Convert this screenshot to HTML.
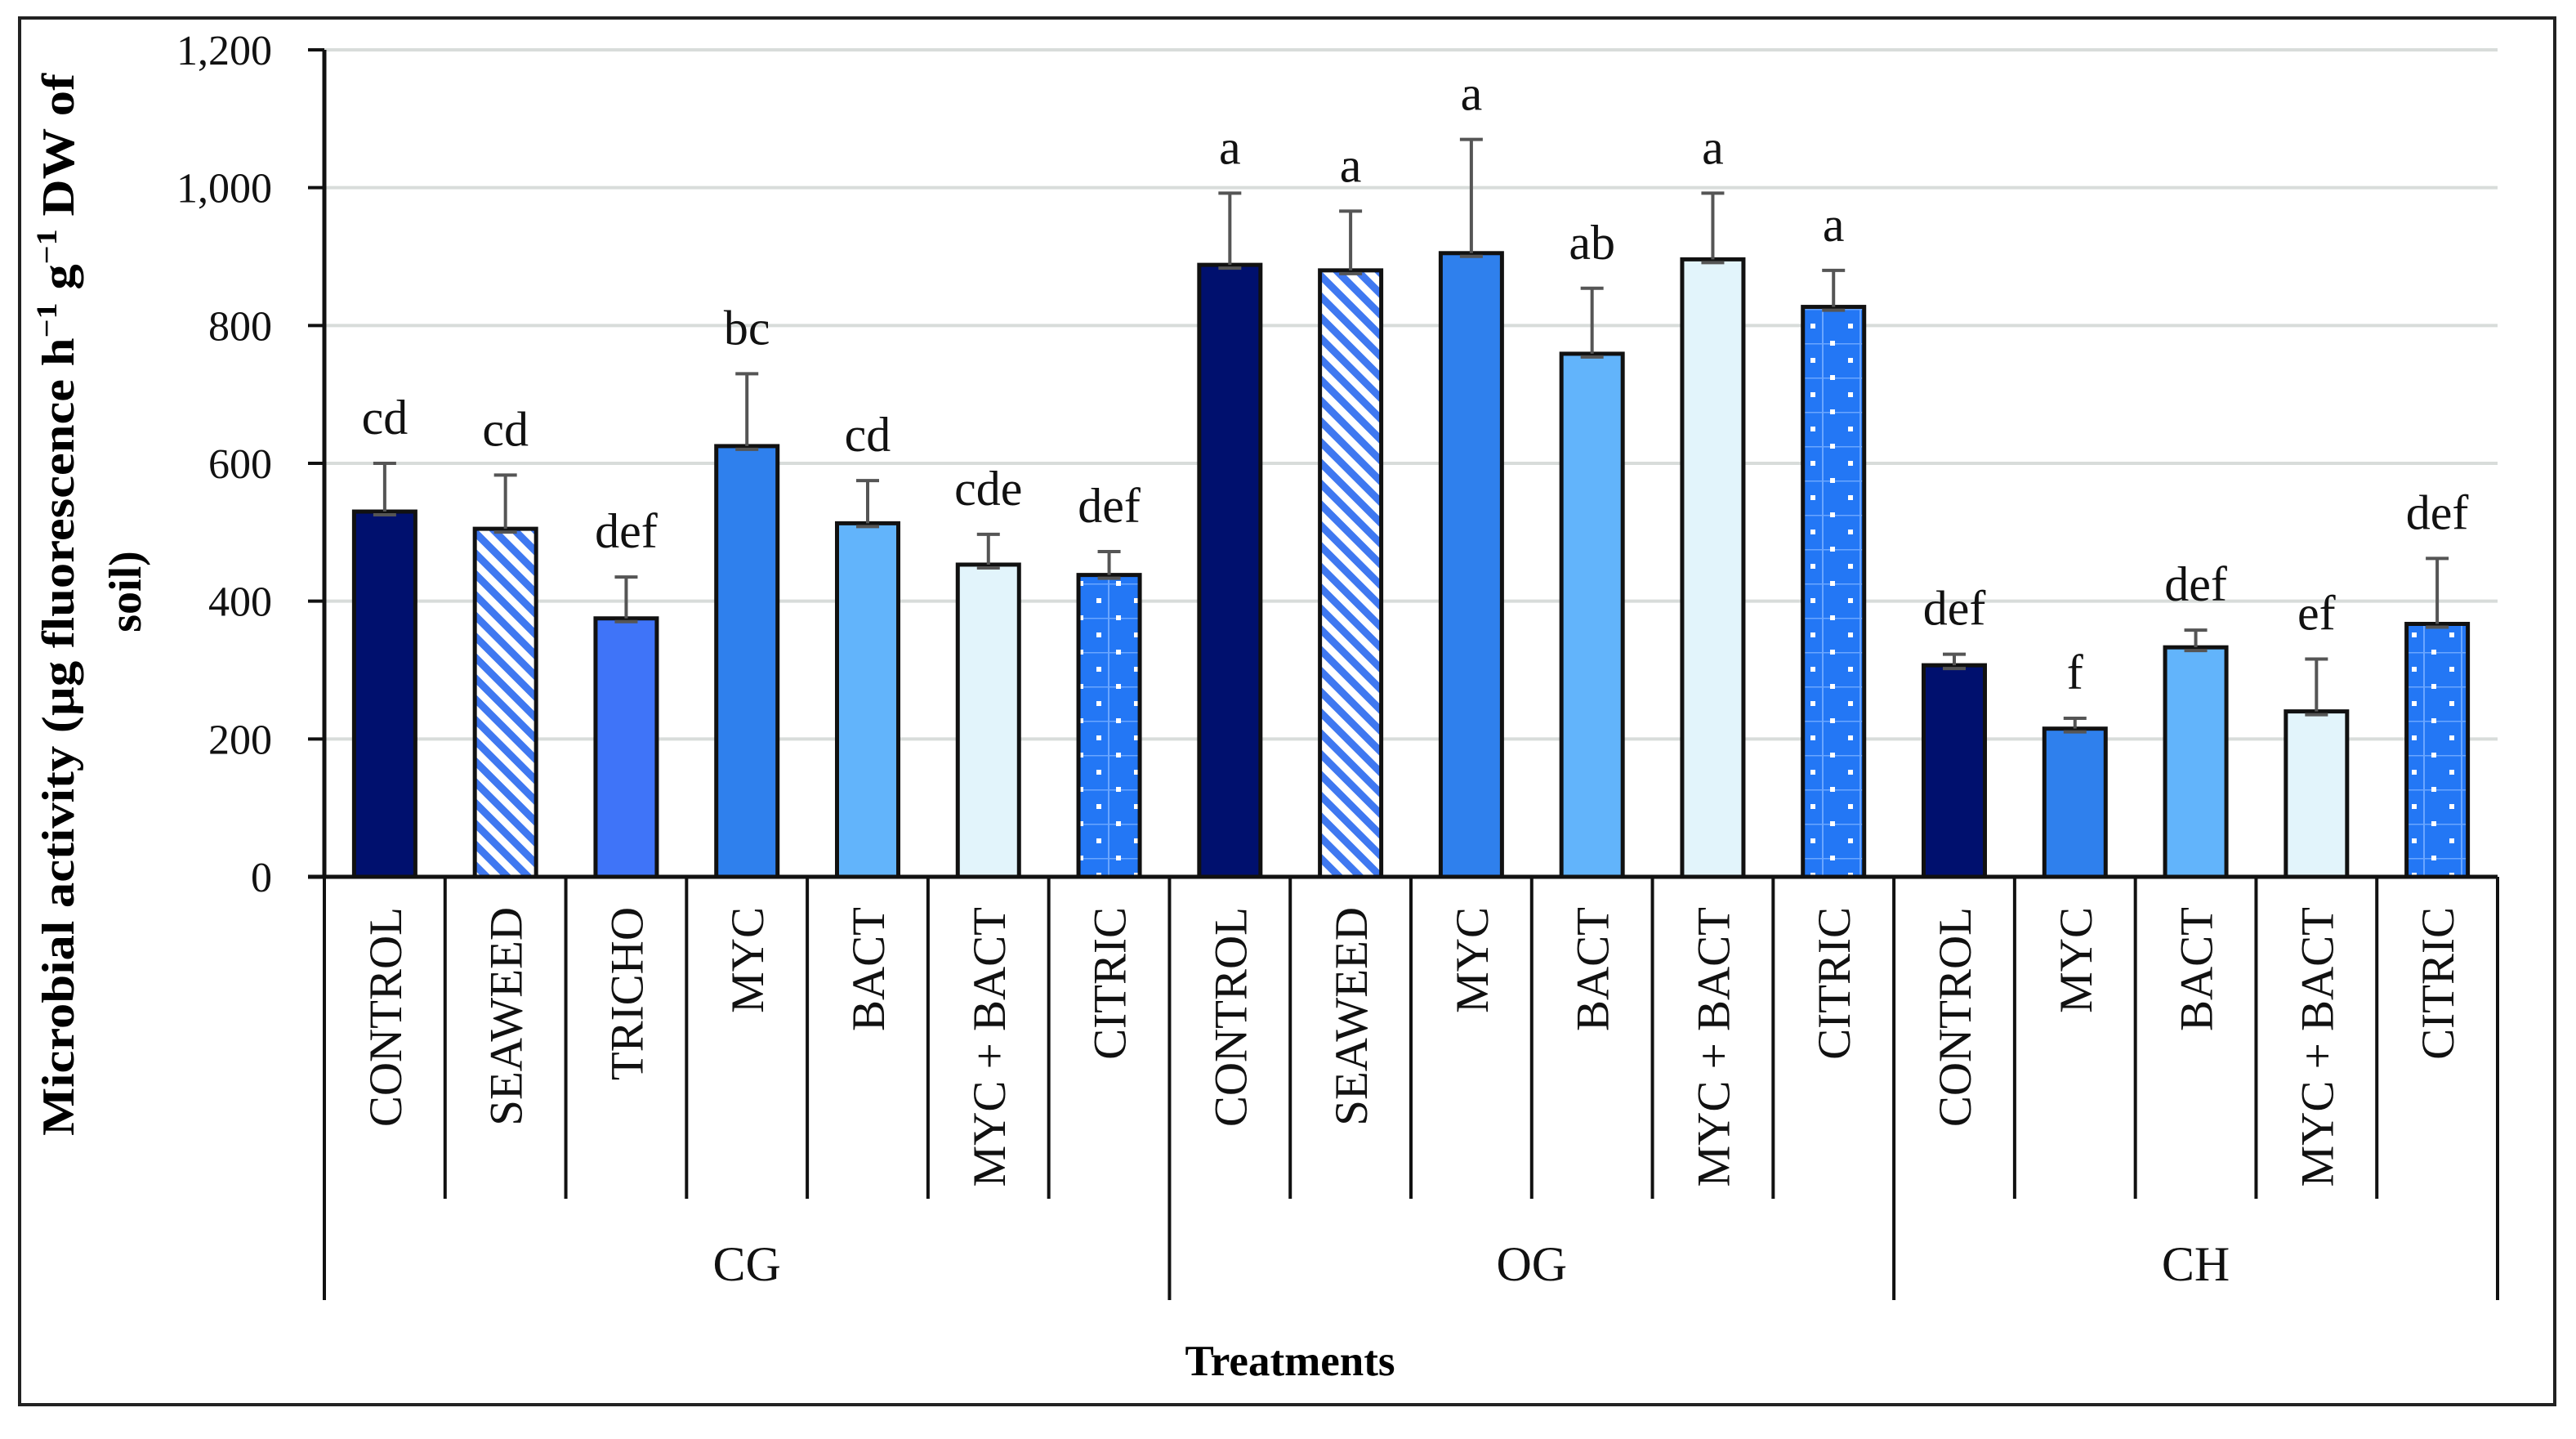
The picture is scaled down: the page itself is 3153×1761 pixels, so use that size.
<!DOCTYPE html>
<html><head><meta charset="utf-8"><style>
html,body{margin:0;padding:0;background:#fff;}
svg{display:block;font-family:"Liberation Serif",serif;}
</style></head><body>
<svg id="chart" width="3153" height="1761" viewBox="0 0 3153 1761" xmlns="http://www.w3.org/2000/svg">
<defs>
<pattern id="stripes" patternUnits="userSpaceOnUse" width="18" height="18" patternTransform="rotate(-45)">
<rect width="18" height="18" fill="#ffffff"/><rect width="9" height="18" fill="#3f78f0"/>
</pattern>
<pattern id="dots" patternUnits="userSpaceOnUse" width="46" height="42">
<rect width="46" height="42" fill="#2377f5"/>
<line x1="0" y1="0.5" x2="46" y2="0.5" stroke="#6aa6ff" stroke-width="2"/>
<line x1="23" y1="0" x2="23" y2="42" stroke="#6aa6ff" stroke-width="2"/>
<rect x="8" y="18" width="6" height="6" fill="#fff"/>
<rect x="32" y="39" width="6" height="6" fill="#fff"/>
<rect x="32" y="-3" width="6" height="6" fill="#fff"/>
</pattern>
</defs>
<rect x="24" y="22" width="3103" height="1697" fill="none" stroke="#222" stroke-width="4"/>
<g id="grid"></g><g id="bars"></g><g id="axes"></g><g id="labels"></g>
<text transform="translate(90,740) rotate(-90)" text-anchor="middle" font-weight="bold" font-size="56" textLength="1300" lengthAdjust="spacingAndGlyphs">Microbial activity (µg fluorescence h<tspan font-size="36" dy="-21">−1</tspan><tspan dy="21"> g</tspan><tspan font-size="36" dy="-21">−1</tspan><tspan dy="21"> DW of</tspan></text>
<text transform="translate(172,724) rotate(-90)" text-anchor="middle" font-weight="bold" font-size="56">soil)</text>
<text x="1579" y="1683" text-anchor="middle" font-weight="bold" font-size="53">Treatments</text>
</svg>
<script>
const categories = ["CONTROL","SEAWEED","TRICHO","MYC","BACT","MYC + BACT","CITRIC","CONTROL","SEAWEED","MYC","BACT","MYC + BACT","CITRIC","CONTROL","MYC","BACT","MYC + BACT","CITRIC"];
const values = [530,505,375,625,513,453,438,888,880,905,759,896,827,307,215,333,240,367];
const errorTops = [600,583,435,730,575,497,472,992,966,1070,854,992,880,323,230,358,316,462];
const letters = ["cd","cd","def","bc","cd","cde","def","a","a","a","ab","a","a","def","f","def","ef","def"];
const fills = ["#00106e","url(#stripes)","#3f74f8","#2f80ed","#62b4fb","#e2f4fb","url(#dots)","#00106e","url(#stripes)","#2f80ed","#62b4fb","#e2f4fb","url(#dots)","#00106e","#2f80ed","#62b4fb","#e2f4fb","url(#dots)"];
const groups = ["CG","OG","CH"];
const groupSizes = [7,6,5];
const yTicks = [0,200,400,600,800,1000,1200];
const yTickLabels = ["0","200","400","600","800","1,000","1,200"];

const NS="http://www.w3.org/2000/svg";
const X0=397, X1=3057, Y0=1073, YTOP=61, YMAX=1200;
const catW=(X1-X0)/categories.length;
const y=v=>Y0-(v/YMAX)*(Y0-YTOP);
const xc=i=>X0+catW*(i+0.5);
const xb=i=>X0+catW*i;
function mk(tag,attrs,parent,text){const e=document.createElementNS(NS,tag);for(const k in attrs)e.setAttribute(k,attrs[k]);if(text!==undefined)e.textContent=text;parent.appendChild(e);return e;}
const grid=document.getElementById('grid'),bars=document.getElementById('bars'),axes=document.getElementById('axes'),labels=document.getElementById('labels');

yTicks.forEach((t,i)=>{
  if(t>0){const g=mk('line',{x1:X0,x2:X1,y1:y(t),y2:y(t),stroke:'#d8dcda','stroke-width':4},grid);
  
  }
  const tk=mk('line',{x1:X0-20,x2:X0,y1:y(t),y2:y(t),stroke:'#111','stroke-width':4},axes);
  
  
  const tl=mk('text',{x:333,y:y(t)+18,'text-anchor':'end','font-size':52,fill:'#111'},labels,yTickLabels[i]);
  
  
});

const bw=75;
categories.forEach((c,i)=>{
  const cx=xc(i);
  const r=mk('rect',{x:cx-bw/2,y:y(values[i]),width:bw,height:Y0-y(values[i]),fill:fills[i],stroke:'#111','stroke-width':5},bars);
  
  
  const eg=mk('path',{d:`M${cx},${y(values[i])} V${y(errorTops[i])} M${cx-14},${y(errorTops[i])} H${cx+14} M${cx-14},${y(values[i])+4} H${cx+14}`,stroke:'#555','stroke-width':4,fill:'none'},bars);
  
  
  const lt=mk('text',{x:cx,y:y(errorTops[i])-36,'text-anchor':'middle','font-size':60,fill:'#111'},labels,letters[i]);
  
  
  const cl=mk('text',{transform:`translate(${cx+20},1110) rotate(-90)`,'text-anchor':'end','font-size':57,fill:'#111'},labels,c);
  
  
});

const groupBounds=[0];groupSizes.forEach(s=>groupBounds.push(groupBounds[groupBounds.length-1]+s));
for(let k=0;k<=categories.length;k++){
  const isG=groupBounds.includes(k);
  const l=mk('line',{x1:xb(k),x2:xb(k),y1:Y0,y2:isG?1591:1467,stroke:'#111','stroke-width':4},axes);
  
  
}
groups.forEach((g,i)=>{
  const mx=(xb(groupBounds[i])+xb(groupBounds[i+1]))/2;
  const t=mk('text',{x:mx,y:1567,'text-anchor':'middle','font-size':60,fill:'#111'},labels,g);
  
  
});
const ya=mk('line',{x1:X0,x2:X0,y1:YTOP,y2:Y0,stroke:'#111','stroke-width':5},axes);


const xa=mk('line',{x1:X0-20,x2:X1,y1:Y0,y2:Y0,stroke:'#111','stroke-width':5},axes);


</script>
</body></html>
